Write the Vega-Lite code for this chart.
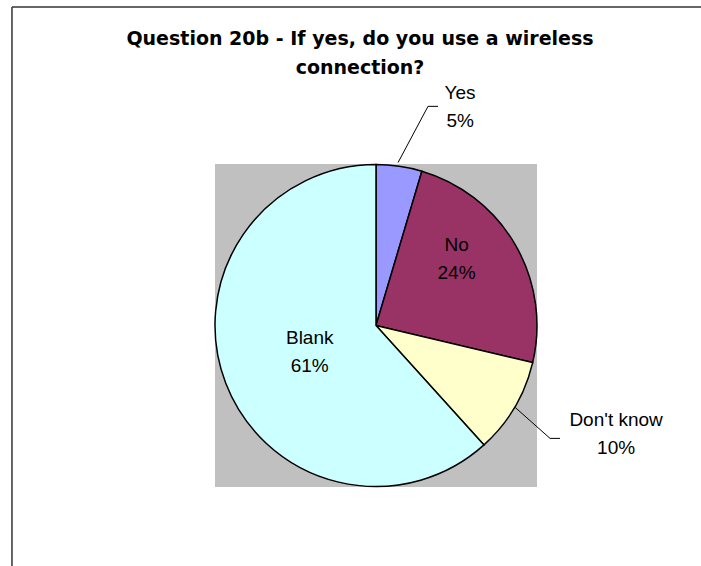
{
  "$schema": "https://vega.github.io/schema/vega-lite/v6.json",
  "usermeta": {"embedOptions": {"actions": false}},
  "width": 322,
  "height": 323,
  "autosize": {"type": "none"},
  "padding": {"left": 215, "top": 164, "right": 164, "bottom": 79},
  "background": "#FFFFFF",
  "config": {"view": {"fill": "#C0C0C0", "stroke": null}},
  "title": {
    "text": ["Question 20b - If yes, do you use a wireless", "connection?"],
    "font": "DejaVu Sans",
    "fontSize": 19,
    "fontWeight": "bold",
    "color": "#000000",
    "anchor": "middle",
    "frame": "group",
    "baseline": "bottom",
    "lineHeight": 29,
    "offset": -90.7,
    "dx": -16,
    "limit": 700
  },
  "datasets": {
    "slices": [
      {"category": "Yes", "value": 4.6, "ord": 1, "label": "Yes\n5%"},
      {"category": "No", "value": 24.1, "ord": 2, "label": "No\n24%"},
      {"category": "Don't know", "value": 9.6, "ord": 3, "label": "Don't know\n10%"},
      {"category": "Blank", "value": 61.7, "ord": 4, "label": "Blank\n61%"}
    ],
    "leaders": [
      {"category": "Yes", "x": 0.137, "y": 1.009},
      {"category": "Yes", "x": 0.323, "y": 1.357},
      {"category": "Yes", "x": 0.385, "y": 1.357},
      {"category": "Don't know", "x": 0.863, "y": -0.506},
      {"category": "Don't know", "x": 1.081, "y": -0.699},
      {"category": "Don't know", "x": 1.143, "y": -0.699}
    ]
  },
  "layer": [
    {
      "data": {"name": "slices"},
      "mark": {"type": "arc", "outerRadius": 161, "stroke": "#000000", "strokeWidth": 1.5},
      "encoding": {
        "theta": {"field": "value", "type": "quantitative", "stack": true},
        "order": {"field": "ord", "type": "quantitative"},
        "color": {
          "field": "category",
          "type": "nominal",
          "scale": {"domain": ["Yes", "No", "Don't know", "Blank"], "range": ["#9999FF", "#993366", "#FFFFCC", "#CCFFFF"]},
          "legend": null
        }
      }
    },
    {
      "data": {"name": "slices"},
      "mark": {"type": "text", "radius": 223, "dx": 52, "dy": -12, "font": "Liberation Sans", "fontSize": 19, "lineBreak": "\n", "lineHeight": 28, "align": "center", "baseline": "middle", "color": "#000000"},
      "encoding": {
        "theta": {"field": "value", "type": "quantitative", "stack": true},
        "order": {"field": "ord", "type": "quantitative"},
        "detail": {"field": "category"},
        "text": {"condition": {"test": "datum.category === 'Yes'", "field": "label"}, "value": ""}
      }
    },
    {
      "data": {"name": "slices"},
      "mark": {"type": "text", "radius": 100, "dx": -6, "dy": -30, "font": "Liberation Sans", "fontSize": 19, "lineBreak": "\n", "lineHeight": 28, "align": "center", "baseline": "middle", "color": "#000000"},
      "encoding": {
        "theta": {"field": "value", "type": "quantitative", "stack": true},
        "order": {"field": "ord", "type": "quantitative"},
        "detail": {"field": "category"},
        "text": {"condition": {"test": "datum.category === 'No'", "field": "label"}, "value": ""}
      }
    },
    {
      "data": {"name": "slices"},
      "mark": {"type": "text", "radius": 265, "dx": 12, "dy": -40, "font": "Liberation Sans", "fontSize": 19, "lineBreak": "\n", "lineHeight": 28, "align": "center", "baseline": "middle", "color": "#000000"},
      "encoding": {
        "theta": {"field": "value", "type": "quantitative", "stack": true},
        "order": {"field": "ord", "type": "quantitative"},
        "detail": {"field": "category"},
        "text": {"condition": {"test": "datum.category === \"Don't know\"", "field": "label"}, "value": ""}
      }
    },
    {
      "data": {"name": "slices"},
      "mark": {"type": "text", "radius": 71, "dy": -13.5, "font": "Liberation Sans", "fontSize": 19, "lineBreak": "\n", "lineHeight": 28, "align": "center", "baseline": "middle", "color": "#000000"},
      "encoding": {
        "theta": {"field": "value", "type": "quantitative", "stack": true},
        "order": {"field": "ord", "type": "quantitative"},
        "detail": {"field": "category"},
        "text": {"condition": {"test": "datum.category === 'Blank'", "field": "label"}, "value": ""}
      }
    },
    {
      "data": {"name": "leaders"},
      "mark": {"type": "line", "color": "#000000", "strokeWidth": 1},
      "encoding": {
        "x": {"field": "x", "type": "quantitative", "scale": {"domain": [-1, 1], "nice": false, "zero": false}, "axis": null},
        "y": {"field": "y", "type": "quantitative", "scale": {"domain": [-1, 1], "nice": false, "zero": false}, "axis": null},
        "detail": {"field": "category"}
      }
    },
    {
      "data": {"values": [{}]},
      "mark": {"type": "rule", "color": "#333333", "strokeWidth": 1.5},
      "encoding": {
        "x": {"datum": -2.261, "type": "quantitative"},
        "x2": {"datum": 2.02},
        "y": {"datum": 1.972, "type": "quantitative"}
      }
    },
    {
      "data": {"values": [{}]},
      "mark": {"type": "rule", "color": "#333333", "strokeWidth": 1.5},
      "encoding": {
        "x": {"datum": -2.261, "type": "quantitative"},
        "y": {"datum": 1.972, "type": "quantitative"},
        "y2": {"datum": -1.49}
      }
    }
  ]
}
